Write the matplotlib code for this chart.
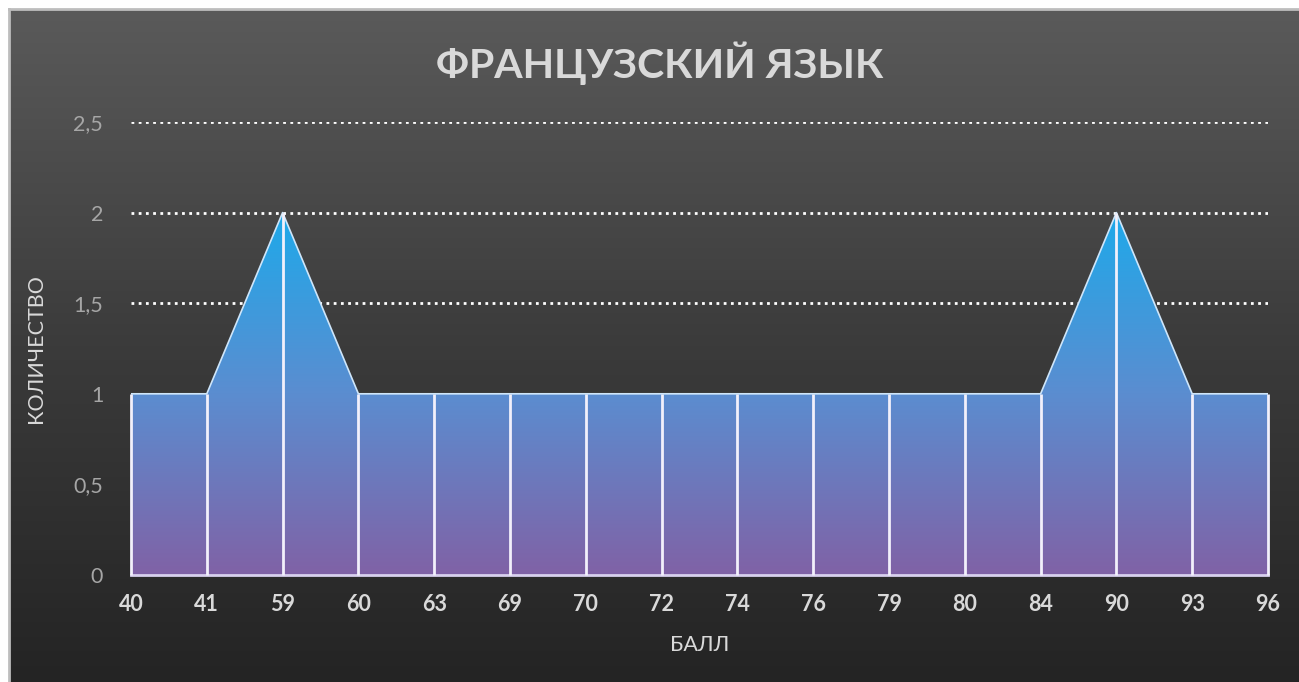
import matplotlib
matplotlib.use("Agg")
import matplotlib.pyplot as plt
import numpy as np
from matplotlib.colors import LinearSegmentedColormap

categories = ["40", "41", "59", "60", "63", "69", "70", "72", "74", "76", "79", "80", "84", "90", "93", "96"]
counts = [1, 1, 2, 1, 1, 1, 1, 1, 1, 1, 1, 1, 1, 2, 1, 1]
yticks = [0, 0.5, 1, 1.5, 2, 2.5]
ytick_labels = ["0", "0,5", "1", "1,5", "2", "2,5"]

plt.rcParams['font.family'] = ['Lato', 'DejaVu Sans']

W, H = 1299, 682
fig = plt.figure(figsize=(W / 100, H / 100), dpi=100)
fig.patch.set_facecolor("white")

# background panel with vertical gradient
bg = fig.add_axes([9 / W, 0, 1 - 9 / W, 1 - 9 / H])
bg_cmap = LinearSegmentedColormap.from_list("bg", ["#242424", "#3b3b3b", "#5a5a5a"])
bg.imshow(np.linspace(0, 1, 256).reshape(-1, 1), aspect="auto", cmap=bg_cmap,
          origin="lower", extent=[0, 1, 0, 1])
bg.set_xlim(0, 1); bg.set_ylim(0, 1)
bg.axis("off")
fig.add_artist(plt.Line2D([8.5 / W, 8.5 / W], [0, 1 - 8.5 / H], color="#bdbdbd", lw=2,
                          transform=fig.transFigure))
fig.add_artist(plt.Line2D([8.5 / W, 1], [1 - 8.5 / H, 1 - 8.5 / H], color="#bdbdbd", lw=2,
                          transform=fig.transFigure))

left, right = 131 / W, 1268 / W
bottom, top = (H - 575) / H, (H - 122) / H
ax = fig.add_axes([left, bottom, right - left, top - bottom])
ax.patch.set_alpha(0)

x = np.arange(len(categories))

# grid
for yv in yticks[1:]:
    ax.axhline(yv, color="white", lw=2, ls=(0, (1, 1.6)), zorder=1)

# gradient-filled area
fill_cmap = LinearSegmentedColormap.from_list("fill", ["#8062a6", "#5b8dd0", "#1ea9ea"])
poly = ax.fill_between(x, 0, counts, facecolor="none", edgecolor="none", zorder=2)
grad = np.linspace(0, 1, 256).reshape(-1, 1)
im = ax.imshow(grad, aspect="auto", cmap=fill_cmap, origin="lower",
               extent=[0, len(categories) - 1, 0, 2], zorder=2)
im.set_clip_path(poly.get_paths()[0], transform=ax.transData)
ax.set_xlim(0, len(categories) - 1)
ax.set_ylim(0, 2.5)

# outline
ax.plot(x, counts, color="#cfe6fa", lw=1.2, zorder=3)
ax.plot([x[0], x[-1]], [0, 0], color="#d8d0ee", lw=2, zorder=3, clip_on=False)
# vertical drop lines
ax.vlines(x, 0, counts, color="#f2f0fb", lw=2, zorder=4, clip_on=False)

# ticks
ax.set_xticks(x)
ax.set_xticklabels(categories, fontsize=15.5, fontweight="bold", color="#d9d9d9")
ax.set_yticks(yticks)
ax.set_yticklabels(ytick_labels, fontsize=15.5, color="#a6a6a6")
ax.tick_params(axis="both", length=0)
ax.tick_params(axis="x", pad=14)
ax.tick_params(axis="y", pad=20)
for s in ax.spines.values():
    s.set_visible(False)

ax.set_xlabel("БАЛЛ", fontsize=15.5, color="#d9d9d9", labelpad=14)
ax.set_ylabel("КОЛИЧЕСТВО", fontsize=15.5, color="#d9d9d9", labelpad=20)

fig.text(660 / W, 1 - 63 / H, "ФРАНЦУЗСКИЙ ЯЗЫК", fontsize=29.5, fontweight="bold",
         color="#d9d9d9", ha="center", va="center")

fig.savefig("out.png", dpi=100, facecolor=fig.get_facecolor())
